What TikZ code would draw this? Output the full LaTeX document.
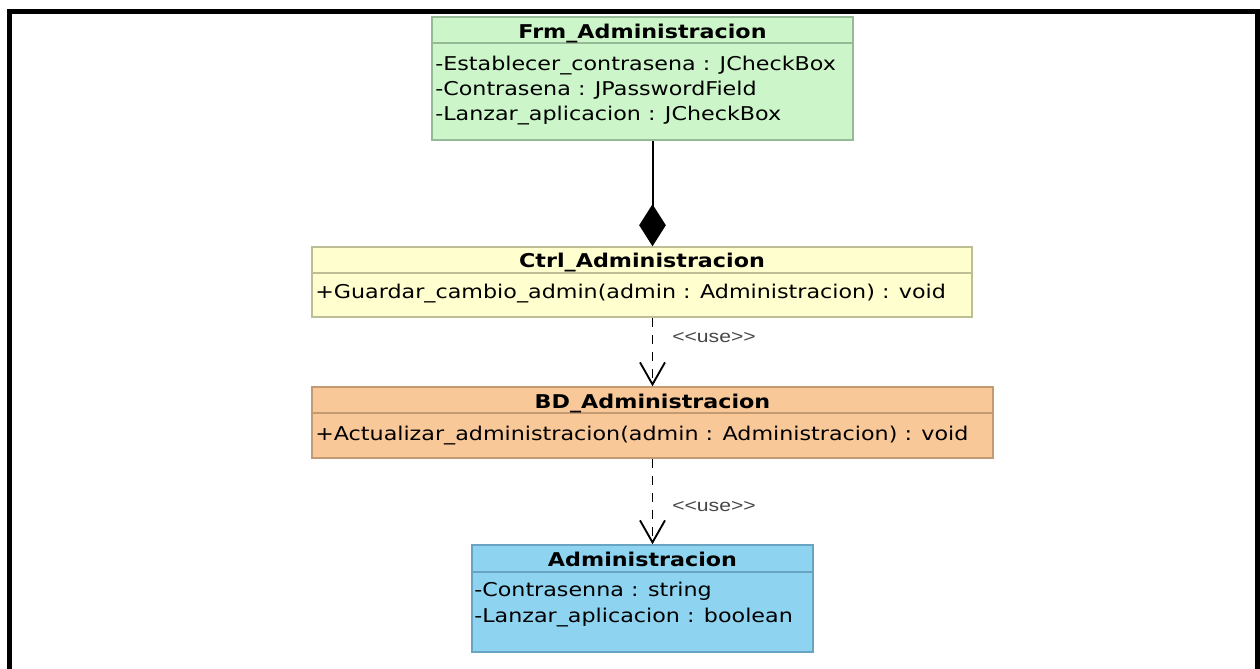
\documentclass[tikz,border=0pt]{standalone}
\usepackage{fontspec}
\setmainfont{DejaVu Sans}[FakeStretch=1.17]
\newfontfamily\stereofont{Liberation Sans}[FakeStretch=1.22]
\usetikzlibrary{arrows.meta}
\newlength\pxu
\setlength\pxu{0.75pt}

\definecolor{frmfill}{RGB}{204,246,202}
\definecolor{frmline}{RGB}{150,185,150}
\definecolor{ctrlfill}{RGB}{255,254,206}
\definecolor{ctrlline}{RGB}{190,190,150}
\definecolor{bdfill}{RGB}{249,200,152}
\definecolor{bdline}{RGB}{195,155,115}
\definecolor{admfill}{RGB}{142,212,240}
\definecolor{admline}{RGB}{105,165,195}
\definecolor{stereo}{RGB}{70,70,70}

\tikzset{
  classbox/.style={rectangle, draw=#1line, fill=#1fill, line width=1.5\pxu, inner sep=0pt},
  sepline/.style={draw=#1line, line width=1.5\pxu},
  ctitle/.style={anchor=base, inner sep=0pt, font=\fontsize{14.25pt}{17pt}\selectfont\bfseries},
  cmember/.style={anchor=base west, inner sep=0pt, font=\fontsize{14.25pt}{17pt}\selectfont},
  stereolabel/.style={anchor=west, inner sep=0pt, text=stereo, font=\fontsize{13pt}{15pt}\stereofont},
  composition/.style={line width=1.5pt, -{Diamond[length=31.5pt,width=20pt,line width=0pt]}},
  usedep/.style={line width=1.4pt, dash pattern=on 6.75pt off 6pt,
    -{Straight Barb[length=16.5pt,width=18.75pt,line width=1.4pt]}},
}

\begin{document}
\begin{tikzpicture}[x=\pxu, y=-\pxu]
\useasboundingbox (0,0) rectangle (1260,668);

% outer frame, open at the bottom
\draw[line width=5\pxu] (9.5,680) -- (9.5,11.5) -- (1257.5,11.5) -- (1257.5,680);

% class boxes
\node[classbox=frm, minimum width=421\pxu, minimum height=123\pxu] (frm) at (642.5,78.5) {};
\node[classbox=ctrl, minimum width=660\pxu, minimum height=70\pxu] (ctrl) at (642,282) {};
\node[classbox=bd, minimum width=681\pxu, minimum height=71\pxu] (bd) at (652.5,422.5) {};
\node[classbox=adm, minimum width=341\pxu, minimum height=107\pxu] (adm) at (642.5,598.5) {};

% compartment separators
\draw[sepline=frm] (frm.west |- 0,43) -- (frm.east |- 0,43);
\draw[sepline=ctrl] (ctrl.west |- 0,273) -- (ctrl.east |- 0,273);
\draw[sepline=bd] (bd.west |- 0,413) -- (bd.east |- 0,413);
\draw[sepline=adm] (adm.west |- 0,572) -- (adm.east |- 0,572);

% Frm_Administracion
\node[ctitle] (frmt) at (642.5,38) {Frm\_Administracion};
\node[cmember] (frma1) at (435,70) {-Establecer\_contrasena : JCheckBox};
\node[cmember] (frma2) at (435,95) {-Contrasena : JPasswordField};
\node[cmember] (frma3) at (435,120) {-Lanzar\_aplicacion : JCheckBox};

% Ctrl_Administracion
\node[ctitle] (ctrlt) at (642,267) {Ctrl\_Administracion};
\node[cmember] (ctrlm1) at (315,298) {+Guardar\_cambio\_admin(admin : Administracion) : void};

% BD_Administracion
\node[ctitle] (bdt) at (652.5,408) {BD\_Administracion};
\node[cmember] (bdm1) at (315,440) {+Actualizar\_administracion(admin : Administracion) : void};

% Administracion
\node[ctitle] (admt) at (642.5,566) {Administracion};
\node[cmember] (adma1) at (474,596) {-Contrasenna : string};
\node[cmember] (adma2) at (474,622) {-Lanzar\_aplicacion : boolean};

% relations
\draw[composition] (frm.south -| bd.center) -- (ctrl.north -| bd.center);
\draw[usedep] (ctrl.south -| bd.center) -- (bd.north);
\draw[usedep] (bd.south) -- (adm.north -| bd.center);

\node[stereolabel] (use1) at (672,338) {<\kern0pt<use>\kern0pt>};
\node[stereolabel] (use2) at (672,507) {<\kern0pt<use>\kern0pt>};
\end{tikzpicture}
\end{document}
